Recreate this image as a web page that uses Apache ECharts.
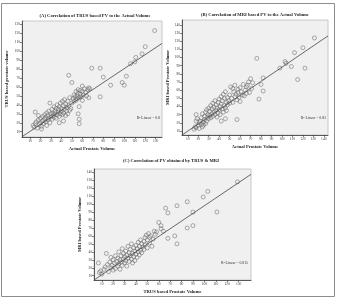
<!DOCTYPE html>
<html><head><meta charset="utf-8">
<script src="https://cdn.jsdelivr.net/npm/echarts@6/dist/echarts.min.js"></script>
<style>html,body{margin:0;padding:0;background:#fff}#c{width:337px;height:299px}</style>
</head><body><div id="c"></div>
<script>
// tick labels
const ticks130 = [10,20,30,40,50,60,70,80,90,100,110,120,130];
const ticks140 = [10,20,30,40,50,60,70,80,90,100,110,120,130,140];

// Panel A: actual volume vs TRUS based volume
const actualA = [13,15,14,16,17,18,19,20,20,21,22,22,23,24,24,25,25,26,26,27,27,28,28,29,29,30,30,15,21,18,
 31,31,32,32,33,33,34,34,35,35,36,36,37,37,38,38,39,39,40,40,41,41,42,42,43,43,44,44,45,45,46,46,47,48,48,49,50,47,50,38,42,
 51,52,52,53,54,54,55,55,56,56,57,57,58,58,56,57,57,59,60,60,61,62,63,64,65,66,67,60,66,
 69,77,77,80,87,98,100,102,106,110,111,117,120,129];
const trusA = [17,19,15,21,14,23,18,20,25,16,22,27,19,24,29,21,26,17,31,23,28,25,33,20,42,27,30,32,13,28,
 24,35,28,31,26,38,30,33,25,36,29,40,32,35,27,38,30,42,33,36,29,44,31,39,35,46,28,41,33,37,44,30,39,34,48,36,42,73,65,20,22,
 47,44,51,49,45,55,50,47,53,57,48,38,52,56,30,24,19,49,55,61,51,58,54,50,57,59,58,45,48,
 81,81,49,71,62,65,62,72,86,88,93,97,105,123];

// Panel B: actual volume vs MRI based volume
const actualB = [16,17,18,18,19,20,21,21,22,23,23,24,24,25,26,26,27,27,28,28,29,29,30,30,18,25,
 31,31,32,32,33,33,34,34,35,35,36,36,37,37,38,38,39,39,40,40,41,41,42,42,43,43,44,44,45,45,46,46,47,47,48,48,49,50,50,42,46,
 51,52,53,53,54,55,55,56,57,57,58,58,59,60,60,61,62,63,64,65,66,66,67,68,69,70,71,
 72,76,78,80,82,82,98,103,104,109,112,115,120,122,131];
const mriB = [12,15,14,30,25,17,20,13,22,18,26,15,31,21,24,28,19,33,22,36,27,30,25,38,22,17,
 29,34,41,26,31,37,28,44,33,39,30,47,35,42,27,38,45,32,36,49,40,30,43,52,37,47,33,55,41,50,38,58,45,35,51,42,47,54,44,22,25,
 64,50,62,45,58,52,66,55,48,24,61,57,51,63,46,58,54,67,53,60,56,64,66,70,57,74,62,
 69,99,49,67,75,59,87,95,93,89,106,73,112,87,124];

// Panel C: TRUS based volume vs MRI based volume
const trusC = [8,9,10,7,12,13,14,15,16,17,18,18,19,20,20,21,22,22,23,24,24,25,25,26,26,27,27,28,28,29,29,30,30,31,31,32,32,33,33,34,34,35,35,36,36,37,37,38,38,39,39,40,40,41,41,42,42,43,43,44,44,45,45,46,47,47,48,48,49,50,50,51,52,52,53,54,55,56,57,
 58,60,62,64,66,68,68,62,74,76,76,85,85,90,90,99,103,111,129];
const mriC = [14,16,12,26,18,21,38,24,15,27,20,33,23,17,30,26,35,19,28,22,32,40,25,30,18,35,27,23,44,31,38,26,34,29,41,36,22,32,47,28,39,35,43,31,50,38,26,45,34,41,29,48,37,44,33,52,40,36,47,55,42,39,50,46,53,43,58,49,61,45,55,63,51,58,60,47,56,66,62,
 65,77,73,66,95,89,57,69,60,50,98,103,70,73,90,109,116,90,128];

// fitted lines (ends at the plot edges)
const fitA = [[2.4,4.4],[136,108.6]];
const fitB = [[4.5,5],[144,126.5]];
const fitC = [[3.2,4.6],[140.9,137.5]];

const zip = (a,b) => a.map((v,i)=>[v,b[i]]);
const FONT = '"Liberation Serif","DejaVu Serif",serif';

function xAx(g, min, max, ticks, name){
  return {type:'value', gridIndex:g, min, max, name, nameLocation:'middle', nameGap:9,
    nameTextStyle:{fontFamily:FONT, fontSize:4.6, fontWeight:'bold', color:'#222'},
    axisLine:{show:true, onZero:false, lineStyle:{color:'#333', width:0.8}},
    axisTick:{show:true, length:2, customValues:ticks, lineStyle:{color:'#333', width:0.6}},
    axisLabel:{customValues:ticks, fontFamily:FONT, fontSize:3.6, color:'#333', margin:2.5},
    splitLine:{show:false}};
}
function yAx(g, min, max, ticks, name, gap){
  return {type:'value', gridIndex:g, min, max, name, nameLocation:'middle', nameGap:gap, nameRotate:90,
    nameTextStyle:{fontFamily:FONT, fontSize:4.6, fontWeight:'bold', color:'#222'},
    axisLine:{show:true, onZero:false, lineStyle:{color:'#333', width:0.8}},
    axisTick:{show:true, length:2, customValues:ticks, lineStyle:{color:'#333', width:0.6}},
    axisLabel:{customValues:ticks, fontFamily:FONT, fontSize:3.6, color:'#333', margin:2},
    splitLine:{show:false}};
}
function sc(g, data){
  return {type:'scatter', xAxisIndex:g, yAxisIndex:g, data, symbol:'circle', symbolSize:4,
    itemStyle:{color:'rgba(0,0,0,0)', borderColor:'#6a6a6a', borderWidth:0.7}, silent:true};
}
function ln(g, data){
  return {type:'line', xAxisIndex:g, yAxisIndex:g, data, showSymbol:false, symbol:'none',
    lineStyle:{color:'#444', width:0.8}, silent:true};
}
const gridStyle = {show:true, backgroundColor:'#f0f0f0', borderColor:'#bdbdbd', borderWidth:0.8, containLabel:false};

const chart = echarts.init(document.getElementById('c'), null, {renderer:'canvas'});
chart.setOption({
  animation:false,
  backgroundColor:'#fff',
  grid:[
    Object.assign({left:22, top:21, width:140, height:116}, gridStyle),
    Object.assign({left:182, top:20, width:146, height:115}, gridStyle),
    Object.assign({left:94, top:169, width:157, height:111}, gridStyle)
  ],
  xAxis:[
    xAx(0, 2.4, 136, ticks130, 'Actual Prostate Volume'),
    xAx(1, 4.5, 144, ticks140, 'Actual Prostate Volume'),
    xAx(2, 3.2, 140.9, ticks130, 'TRUS based Prostate Volume')
  ],
  yAxis:[
    yAx(0, 4.1, 133.7, ticks130, 'TRUS based prostate volume', 13),
    yAx(1, 5, 146, ticks140, 'MRI based Prostate Volume', 10),
    yAx(2, 4.6, 144.2, ticks140, 'MRI based Prostate Volume', 9)
  ],
  series:[
    sc(0, zip(actualA, trusA)), ln(0, fitA),
    sc(1, zip(actualB, mriB)), ln(1, fitB),
    sc(2, zip(trusC, mriC)), ln(2, fitC)
  ],
  graphic:[
    {type:'rect', shape:{x:1.5, y:3.5, width:333, height:293}, style:{fill:'none', stroke:'#8c8c8c', lineWidth:1}, silent:true},
    {type:'text', x:95, y:13.5, style:{text:'(A) Correlation of TRUS based PV to the Actual Volume', textAlign:'center', font:'bold 4.6px '+FONT, fill:'#222'}},
    {type:'text', x:255, y:12.5, style:{text:'(B) Correlation of MRI based PV to the Actual Volume', textAlign:'center', font:'bold 4.6px '+FONT, fill:'#222'}},
    {type:'text', x:171, y:158, style:{text:'(C) Correlation of PV obtained by TRUS & MRI', textAlign:'center', font:'bold 4.6px '+FONT, fill:'#222'}},
    {type:'text', x:160, y:116.5, style:{text:'R² Linear = 0.8', textAlign:'right', font:'3.8px '+FONT, fill:'#333'}},
    {type:'text', x:326, y:116.5, style:{text:'R² Linear = 0.83', textAlign:'right', font:'3.8px '+FONT, fill:'#333'}},
    {type:'text', x:248, y:261.5, style:{text:'R² Linear = 0.815', textAlign:'right', font:'3.8px '+FONT, fill:'#333'}}
  ]
});
</script>
</body></html>
